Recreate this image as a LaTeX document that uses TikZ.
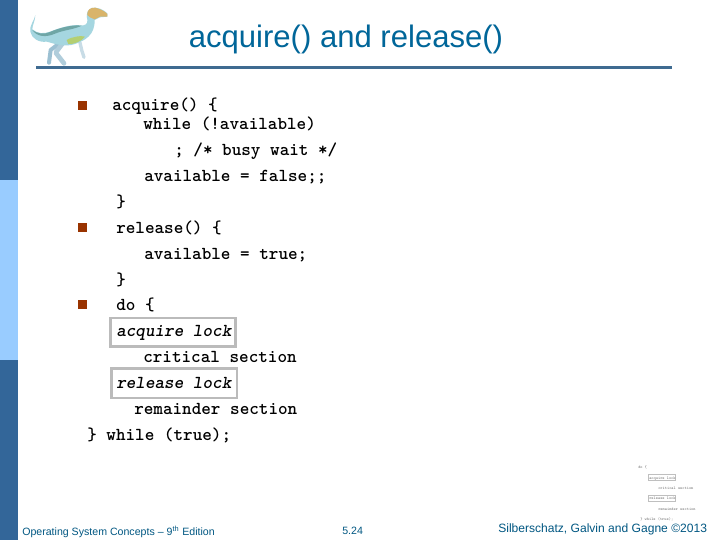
\documentclass[tikz,border=0pt]{standalone}
\usepackage{fontspec}
\setmainfont{Liberation Sans}
\definecolor{bardark}{HTML}{336699}
\definecolor{barlight}{HTML}{99CCFF}
\definecolor{rulecol}{HTML}{3F6B91}
\definecolor{titleblue}{HTML}{006699}
\definecolor{bulletred}{HTML}{993300}
\definecolor{boxgrey}{HTML}{BBBBBB}
\definecolor{dinobody}{HTML}{A5D6E0}
\definecolor{dinoback}{HTML}{6FA6A6}
\definecolor{dinobelly}{HTML}{B4CF72}
\definecolor{dinohead}{HTML}{D9B46A}
\definecolor{dinoleg}{HTML}{9CC0D2}
\tikzset{x=0.75pt,y=-0.75pt,
 code/.style={anchor=base west,inner sep=0pt,font=\ttfamily\bfseries\fontsize{13.7}{14}\selectfont},
 codeit/.style={anchor=base west,inner sep=0pt,font=\ttfamily\bfseries\itshape\fontsize{13.7}{14}\selectfont},
 lockbox/.style={draw=boxgrey,line width=2pt,fill=white},
 bulletmark/.style={fill=bulletred},
 foot/.style={anchor=base west,inner sep=0pt,text=titleblue!85!black,font=\fontsize{7.95}{9}\selectfont},
 mini/.style={anchor=base west,inner sep=0pt,text=black!55,font=\ttfamily\fontsize{3.1}{3.5}\selectfont}}
\begin{document}
\begin{tikzpicture}
\useasboundingbox (0,0) rectangle (720,540);
\fill[white] (0,0) rectangle (720,540);
\fill[bardark] (0,0) rectangle (18,180);
\fill[barlight] (0,180) rectangle (18,360);
\fill[bardark] (0,360) rectangle (18,540);
\fill[rulecol] (36,66) rectangle (672,69);
% dinosaur (coordinates in thirds of a pixel)
\begin{scope}[scale=1/3]
\draw[dinoleg,line width=3pt,line cap=round,line join=round] (178,130) -- (152,150) -- (147,188);
\draw[dinoleg!80!white,line width=3.5pt,line cap=round,line join=round] (188,130) -- (167,158) -- (192,190);
\draw[dinoleg!55!white,line width=2.5pt,line cap=round,line join=round] (240,128) -- (245,150) -- (252,172);
\fill[dinobody] (106,45) .. controls (102,65) and (88,75) .. (91,95) .. controls (95,115) and (115,128) .. (140,125)
  .. controls (160,130) and (195,143) .. (225,132) .. controls (255,122) and (285,105) .. (284,60)
  -- (300,52) -- (322,50) -- (322,40) .. controls (310,28) and (290,20) .. (275,24)
  .. controls (260,30) and (258,45) .. (262,60) .. controls (264,72) and (255,78) .. (240,76)
  .. controls (215,72) and (175,85) .. (150,95) .. controls (130,103) and (112,100) .. (97,88)
  .. controls (97,75) and (106,62) .. cycle;
\fill[dinoback] (97,90) .. controls (112,102) and (132,104) .. (150,96) .. controls (175,85) and (215,73) .. (245,77)
  .. controls (225,88) and (190,90) .. (165,101) .. controls (140,112) and (112,112) .. cycle;
\fill[dinobelly] (200,120) .. controls (215,110) and (245,106) .. (255,110) .. controls (245,124) and (220,134) .. (205,132) -- cycle;
\fill[dinohead] (262,45) .. controls (260,30) and (272,22) .. (285,23) .. controls (300,26) and (315,34) .. (322,42) -- (322,50) -- (300,50) -- (284,58) -- (270,52) -- cycle;
\end{scope}
% title
\node[anchor=base,inner sep=0pt,text=titleblue,font=\fontsize{23.3}{26}\selectfont] (title) at (346,47) {acquire() and release()};
% bullets
\fill[bulletmark] (78,101) rectangle (87,109.5);
\fill[bulletmark] (78,223) rectangle (87,232);
\fill[bulletmark] (78,300) rectangle (87,309);
% code
\node[code] (l1) at (112,110) {acquire() \{};
\node[code] (l2) at (143,129) {while (!available)};
\node[code] (l3) at (174,155) {; /* busy wait */};
\node[code] (l4) at (144,181) {available = false;;};
\node[code] (l5) at (116,207) {\}};
\node[code] (l6) at (116,233) {release() \{};
\node[code] (l7) at (144,259) {available = true;};
\node[code] (l8) at (116,285) {\}};
\node[code] (l9) at (116,310) {do \{};
\draw[lockbox] (110.5,318) rectangle (235.5,346.5);
\node[codeit] (l10) at (116,336) {acquire lock};
\node[code] (l11) at (143,362) {critical section};
\draw[lockbox] (111.5,368.5) rectangle (237,398);
\node[codeit] (l12) at (116,388) {release lock};
\node[code] (l13) at (134,414) {remainder section};
\node[code] (l14) at (87,440) {\} while (true);};
% footer
\node[foot] (f1) at (22,535) {Operating System Concepts -- 9\textsuperscript{th} Edition};
\node[foot] (f2) at (342,534) {5.24};
\node[foot,font=\fontsize{9.05}{10}\selectfont] (f3) at (498,532) {Silberschatz, Galvin and Gagne ©2013};
% thumbnail
\node[mini] (m1) at (638,468.5) {do \{};
\draw[black!25,line width=0.3pt] (648,474) rectangle (675,480.5);
\node[mini] (m2) at (649,479) {acquire lock};
\node[mini] (m3) at (658,489) {critical section};
\draw[black!25,line width=0.3pt] (648,495) rectangle (675,501);
\node[mini] (m4) at (649,499.5) {release lock};
\node[mini] (m5) at (658,510) {remainder section};
\node[mini] (m6) at (640,520) {\} while (true);};
\end{tikzpicture}
\end{document}
